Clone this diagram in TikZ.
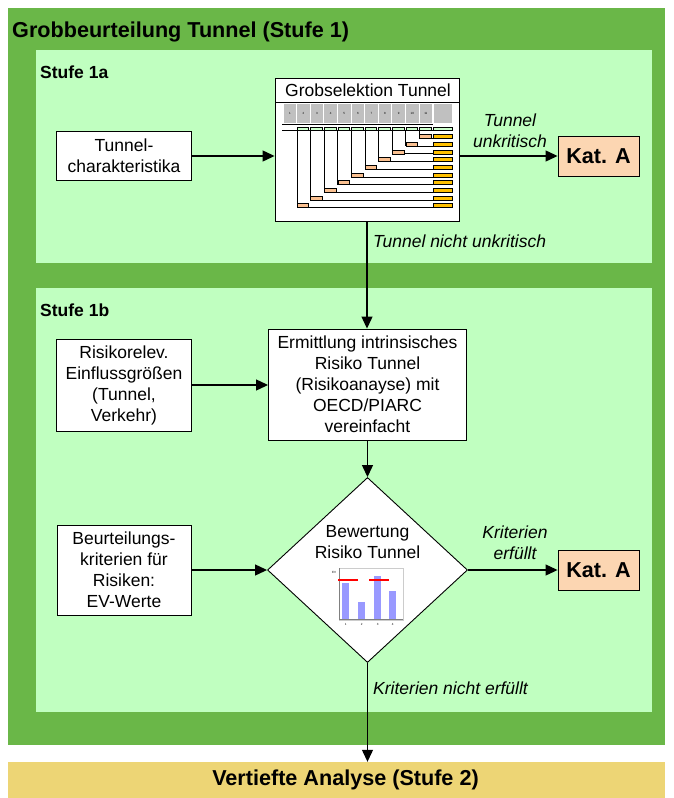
\documentclass[tikz,border=0pt]{standalone}
\usepackage{fontspec}
\setmainfont{Liberation Sans}
\usetikzlibrary{positioning,shapes.geometric,arrows.meta}

\definecolor{outergreen}{RGB}{106,183,72}
\definecolor{innergreen}{RGB}{192,255,192}
\definecolor{katpeach}{RGB}{252,214,178}
\definecolor{stufezwei}{RGB}{237,213,117}
\definecolor{cellgrey}{RGB}{192,192,192}
\definecolor{cellgreen}{RGB}{204,255,204}
\definecolor{cellyellow}{RGB}{255,192,0}
\definecolor{cellpeach}{RGB}{250,192,144}
\definecolor{barblue}{RGB}{153,153,255}

\newcommand{\txt}{\fontsize{17.5}{21}\selectfont}
\newcommand{\headtxt}{\fontsize{21.6}{25}\selectfont\bfseries}
\newcommand{\stufetxt}{\fontsize{17.5}{21}\selectfont\bfseries}
\newcommand{\minitxt}{\fontsize{3}{3.5}\selectfont}

\tikzset{
  box/.style={draw, fill=white, line width=0.9pt, align=center, font=\txt, inner sep=0pt},
  katbox/.style={draw, fill=katpeach, line width=0.9pt, font=\headtxt, minimum width=81pt, minimum height=40pt},
  flow/.style={-{Triangle[length=12pt,width=11pt]}, line width=1.2pt},
  cond/.style={font={\txt\itshape}, align=center, inner sep=0pt},
  stufe/.style={anchor=base west, inner sep=0pt},
}

\begin{document}
\begin{tikzpicture}[x=1pt,y=-1pt]
\useasboundingbox (0,0) rectangle (673,798);
\fill[outergreen] (8,8) rectangle (665,745);
\fill[innergreen] (36,50) rectangle (652,263);
\fill[innergreen] (36,288) rectangle (652,712);

\node[stufe, font=\headtxt] (titel) at (12,37.5) {Grobbeurteilung Tunnel (Stufe 1)};
\node[stufe, font=\stufetxt] (stufea) at (40,78.5) {Stufe 1a};
\node[stufe, font=\stufetxt] (stufeb) at (40,316.5) {Stufe 1b};
\node[fill=stufezwei, minimum width=657pt, minimum height=36pt] (vertieft) at (336.5,780) {};
\node[font=\headtxt, inner sep=0pt] (vertitxt) at (345.5,780) {Vertiefte Analyse (Stufe 2)};

% Stufe 1a
\node[box, minimum width=135pt, minimum height=49pt] (tchar) at (124,156) {Tunnel-\\charakteristika};
\node[draw, fill=white, line width=0.9pt, minimum width=184pt, minimum height=143pt] (grob) at (367,149.5) {};
\node[font=\txt, inner sep=0pt] (grobtitel) at (368,90) {Grobselektion Tunnel};
\draw[line width=0.9pt] (275,102) -- (459,102);
\foreach \i in {1,...,11}
  \node[fill=cellgrey, minimum width=12.7pt, minimum height=19pt, inner sep=0pt, font=\minitxt, anchor=north west] (kopf\i) at ({283.3+(\i-1)*13.6},104) {\i};
\node[fill=cellgrey, minimum width=18.4pt, minimum height=19pt, inner sep=0pt, anchor=north west] (kopfend) at (433.3,104) {};
\draw[line width=0.6pt] (282,124) -- (433.3,124) (282,130.3) -- (433.3,130.3);
\foreach \i in {2,...,11}{
  \pgfmathsetmacro{\cx}{283.3+(\i-1)*13.6}
  \pgfmathsetmacro{\ry}{136.3+(11-\i)*7.7}
  \draw[fill=cellgreen, line width=0.4pt] (\cx,126.7) rectangle (\cx+11.7,130.3);
  \draw[line width=0.6pt] (\cx,130.3) -- (\cx,\ry+2) (\cx+11.7,\ry+2) -- (433.3,\ry+2);
  \draw[fill=cellpeach, line width=0.4pt] (\cx,\ry-2) rectangle (\cx+11.7,\ry+2);
  \draw[fill=cellyellow, line width=0.4pt] (433.3,\ry-2) rectangle (451.7,\ry+2);
}
\draw[fill=cellgreen, line width=0.4pt] (433.3,126.7) rectangle (451.7,130.3);
\node[katbox] (kata) at (598.5,156) {Kat. A};

% Stufe 1b
\node[box, minimum width=198pt, minimum height=111pt] (ermit) at (367.5,384.5) {Ermittlung intrinsisches\\Risiko Tunnel\\(Risikoanayse) mit\\OECD/PIARC\\vereinfacht};
\node[box, minimum width=135pt, minimum height=92pt] (risk) at (124,385) {Risikorelev.\\Einflussgrößen\\(Tunnel,\\Verkehr)};
\node[diamond, draw, fill=white, line width=0.9pt, minimum width=200pt, minimum height=185pt, inner sep=0pt] (bewert) at (367.5,570) {};
\node[font=\txt, align=center, inner sep=0pt] (bewtxt) at (367.5,542) {Bewertung\\Risiko Tunnel};
\node[box, minimum width=134pt, minimum height=90pt] (beurt) at (124,570) {Beurteilungs-\\kriterien für\\Risiken:\\EV-Werte};
\node[katbox] (katb) at (598.5,570) {Kat. A};

% kleines Diagramm
\draw[gray!40, line width=0.4pt] (338.7,568.3) rectangle (402.7,620);
\foreach \bx/\by [count=\k] in {342.3/583.3, 358.3/601.7, 374.3/576, 389.3/590.7}{
  \fill[barblue] (\bx,\by) rectangle (\bx+7,619);
  \node[font=\minitxt, inner sep=0pt] (xlab\k) at (\bx+3.5,624.5) {\k};
}
\draw[gray, line width=0.4pt] (338.7,568.3) -- (338.7,619) -- (402.7,619);
\node[font=\minitxt, inner sep=0pt] (evlab) at (334,572) {EV};
\draw[red, line width=2.8pt] (338.3,580) -- (358.3,580) (369.3,580) -- (389.3,580);

% Pfeile
\draw[flow] (tchar.east) -- (tchar.east -| grob.west);
\draw[flow] (grob.east |- kata) -- (kata);
\draw[flow] (grob.south) -- (grob.south |- ermit.north);
\draw[flow] (risk.east) -- (risk.east -| ermit.west);
\draw[flow] (ermit.south) -- (bewert.north);
\draw[flow] (beurt.east) -- (bewert.west);
\draw[flow] (bewert.east) -- (katb.west);
\draw[flow] (bewert.south) -- (bewert.south |- vertieft.north);

\node[cond] (unkr) at (510,130.5) {Tunnel\\unkritisch};
\node[cond, anchor=west] (nichtunkr) at (373,241) {Tunnel nicht unkritisch};
\node[cond] (erf) at (515,543) {Kriterien\\erfüllt};
\node[cond, anchor=west] (nichterf) at (373,688) {Kriterien nicht erfüllt};
\end{tikzpicture}
\end{document}
